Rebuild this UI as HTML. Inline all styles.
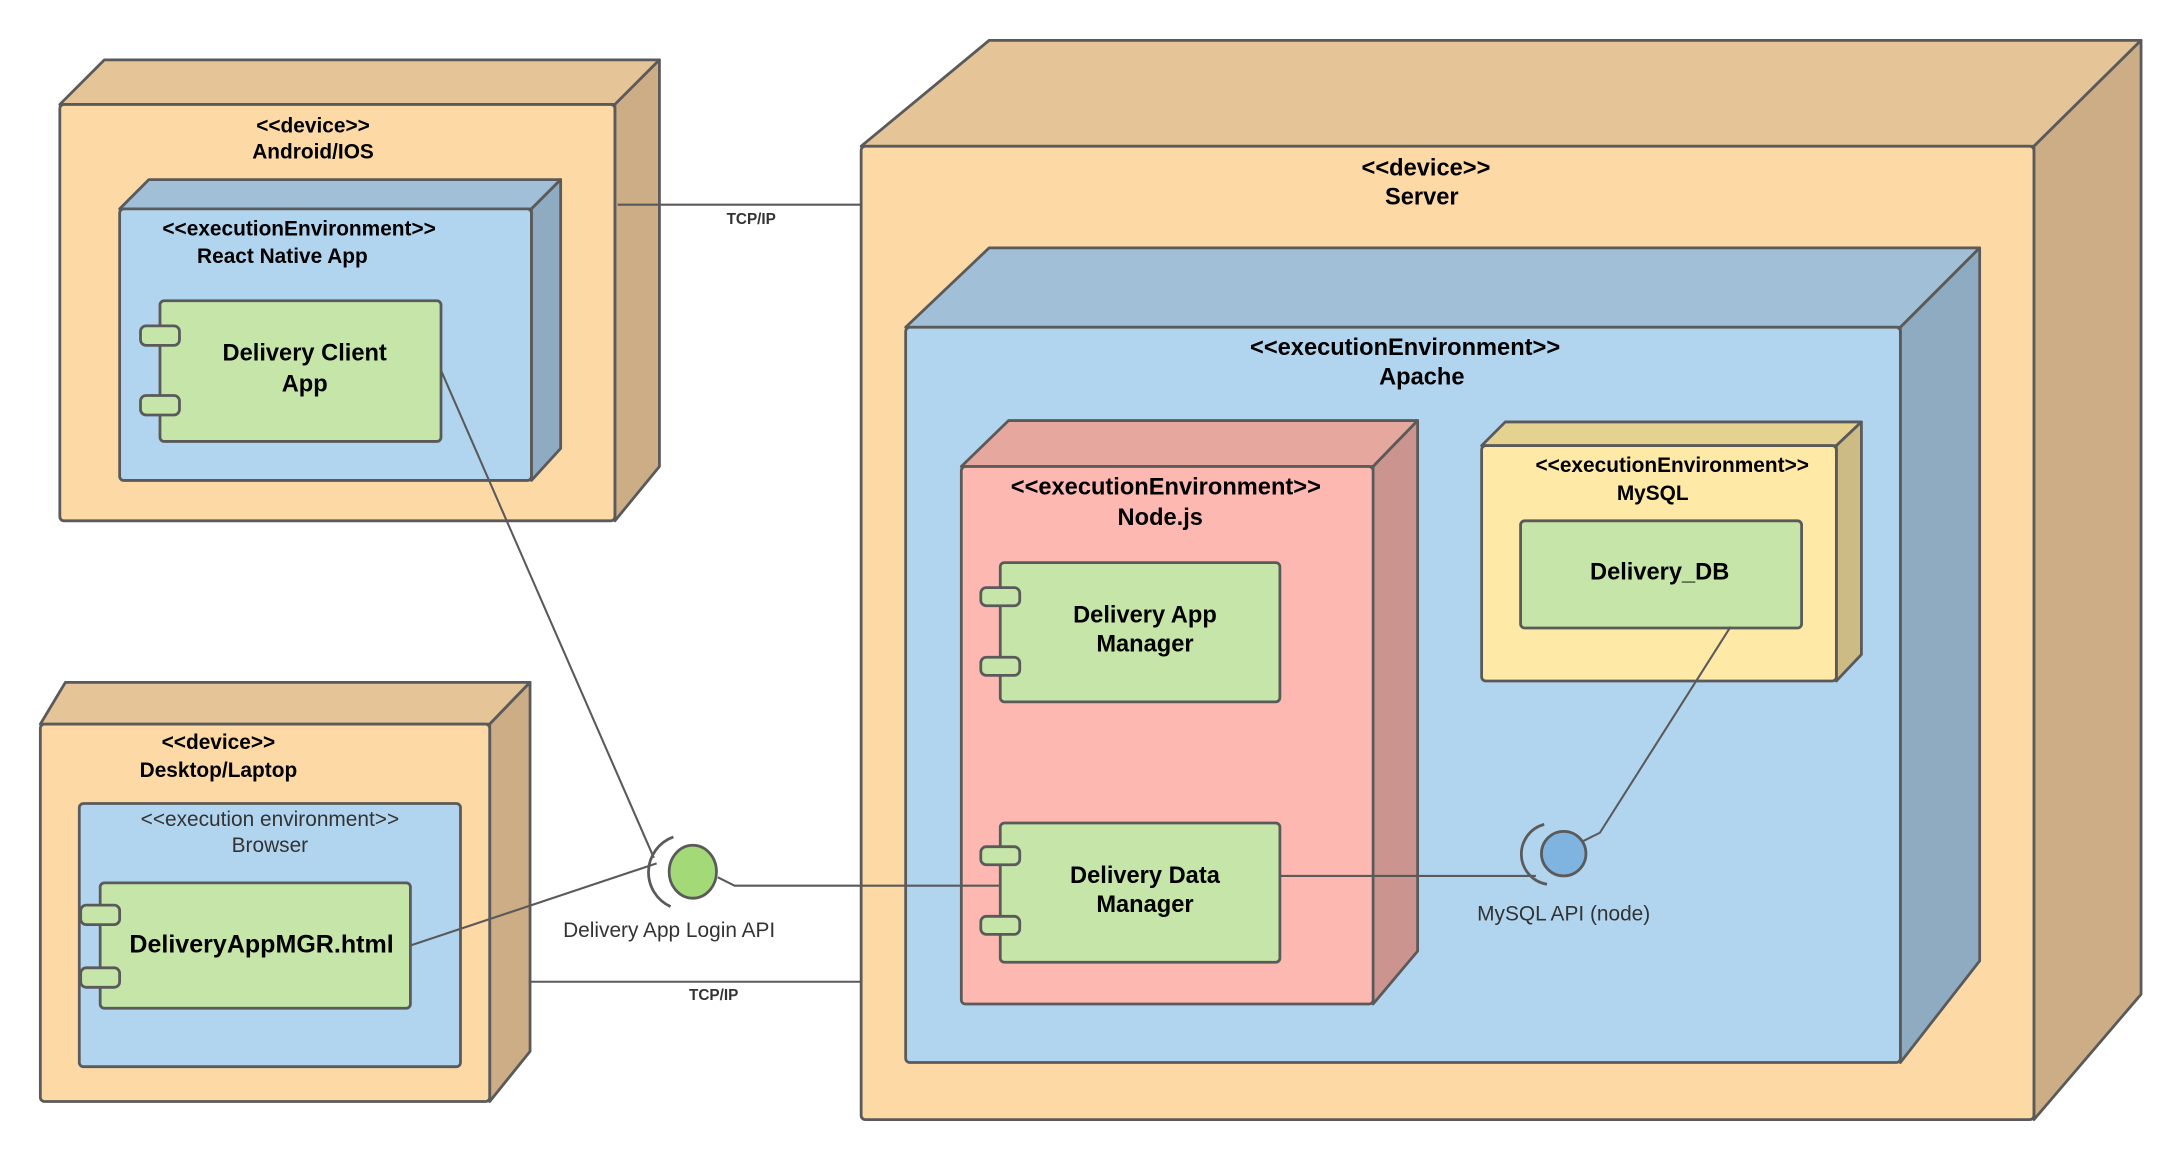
<!DOCTYPE html>
<html><head><meta charset="utf-8"><style>
html,body{margin:0;padding:0;background:#fff;width:2180px;height:1160px;overflow:hidden}
svg{display:block}
text{font-family:"Liberation Sans",sans-serif;text-anchor:middle;fill:#000}
</style></head><body>
<svg width="2180" height="1160" viewBox="0 0 1567 833" preserveAspectRatio="none" xmlns="http://www.w3.org/2000/svg">
<g stroke="#5a5a5a" stroke-width="2" stroke-linejoin="round">
<polygon points="43,75 75,43 474,43 442,75" fill="#e5c597"/>
<polygon points="442,75 474,43 474,335 442,374" fill="#ccad85"/>
<rect x="43" y="75" width="399" height="299" rx="3" fill="#fdd9a6"/>
<polygon points="86,150 107,129 403,129 382,150" fill="#a1c0d7"/>
<polygon points="382,150 403,129 403,322 382,345" fill="#8eabc2"/>
<rect x="86" y="150" width="296" height="195" rx="3" fill="#b2d5ef"/>
<rect x="115" y="216" width="202" height="101" rx="3" fill="#c6e6a9"/>
<rect x="101" y="234" width="28" height="14" rx="4" fill="#c6e6a9"/>
<rect x="101" y="284" width="28" height="14" rx="4" fill="#c6e6a9"/>
<polygon points="29,520 47,490 381,490 352,520" fill="#e5c597"/>
<polygon points="352,520 381,490 381,755 352,791" fill="#ccad85"/>
<rect x="29" y="520" width="323" height="271" rx="3" fill="#fdd9a6"/>
<rect x="57" y="577" width="274" height="189" rx="3" fill="#b2d5ef"/>
<rect x="72" y="634" width="223" height="90" rx="3" fill="#c6e6a9"/>
<rect x="58" y="650" width="28" height="14" rx="4" fill="#c6e6a9"/>
<rect x="58" y="695" width="28" height="14" rx="4" fill="#c6e6a9"/>
<polygon points="619,105 711,29 1539,29 1462,105" fill="#e5c597"/>
<polygon points="1462,105 1539,29 1539,714 1462,804" fill="#ccad85"/>
<rect x="619" y="105" width="843" height="699" rx="3" fill="#fdd9a6"/>
<polygon points="651,235 711,178 1423,178 1366,235" fill="#a1c0d7"/>
<polygon points="1366,235 1423,178 1423,690 1366,763" fill="#8eabc2"/>
<rect x="651" y="235" width="715" height="528" rx="3" fill="#b2d5ef"/>
<polygon points="691,335 725,302 1019,302 987,335" fill="#e6a79e"/>
<polygon points="987,335 1019,302 1019,683 987,721" fill="#cb948e"/>
<rect x="691" y="335" width="296" height="386" rx="3" fill="#fdb9b1"/>
<rect x="719" y="404" width="201" height="100" rx="3" fill="#c6e6a9"/>
<rect x="705" y="422" width="28" height="13" rx="4" fill="#c6e6a9"/>
<rect x="705" y="472" width="28" height="13" rx="4" fill="#c6e6a9"/>
<rect x="719" y="591" width="201" height="100" rx="3" fill="#c6e6a9"/>
<rect x="705" y="608" width="28" height="13" rx="4" fill="#c6e6a9"/>
<rect x="705" y="658" width="28" height="13" rx="4" fill="#c6e6a9"/>
<polygon points="1065,320 1082,303 1338,303 1320,320" fill="#e6d290"/>
<polygon points="1320,320 1338,303 1338,470 1320,489" fill="#ccbb85"/>
<rect x="1065" y="320" width="255" height="169" rx="3" fill="#ffe9a6"/>
<rect x="1093" y="374" width="202" height="77" rx="3" fill="#c6e6a9"/>
</g>
<g stroke="#5a5a5a" fill="none" stroke-width="1.5">
<line x1="444" y1="147" x2="619" y2="147"/>
<line x1="381" y1="705" x2="619" y2="705"/>
<line x1="317" y1="266" x2="470" y2="616"/>
<line x1="295" y1="679" x2="472" y2="620"/>
<polyline points="516,630 528,636 719,636"/>
<line x1="920" y1="629" x2="1104" y2="629"/>
<polyline points="1244,450 1150,598 1138,604"/>
<path d="M 484 601 A 27 27 0 0 0 482 651" stroke-width="2"/>
<path d="M 1110 592 A 22 22 0 0 0 1112 635" stroke-width="2"/>
</g>
<ellipse cx="498" cy="626" rx="17" ry="19" fill="#a3d977" stroke="#5a5a5a" stroke-width="2"/>
<circle cx="1124" cy="613" r="16" fill="#7fb3e0" stroke="#5a5a5a" stroke-width="2"/>
<g font-size="15" font-weight="bold">
<text x="225" y="95">&lt;&lt;device&gt;&gt;</text>
<text x="225" y="114">Android/IOS</text>
<text x="215" y="169">&lt;&lt;executionEnvironment&gt;&gt;</text>
<text x="203" y="189">React Native App</text>
<text x="157" y="538">&lt;&lt;device&gt;&gt;</text>
<text x="157" y="558">Desktop/Laptop</text>
<text x="1202" y="339">&lt;&lt;executionEnvironment&gt;&gt;</text>
<text x="1188" y="359">MySQL</text>
</g>
<g font-size="17" font-weight="bold">
<text x="219" y="259">Delivery Client</text>
<text x="219" y="281">App</text>
<text x="188" y="684" font-size="18">DeliveryAppMGR.html</text>
<text x="1025" y="126">&lt;&lt;device&gt;&gt;</text>
<text x="1022" y="147">Server</text>
<text x="1010" y="255">&lt;&lt;executionEnvironment&gt;&gt;</text>
<text x="1022" y="276">Apache</text>
<text x="838" y="355">&lt;&lt;executionEnvironment&gt;&gt;</text>
<text x="834" y="377">Node.js</text>
<text x="823" y="447">Delivery App</text>
<text x="823" y="468">Manager</text>
<text x="823" y="634">Delivery Data</text>
<text x="823" y="655">Manager</text>
<text x="1193" y="416">Delivery_DB</text>
</g>
<g font-size="15">
<text x="194" y="593" style="fill:#333">&lt;&lt;execution environment&gt;&gt;</text>
<text x="194" y="612" style="fill:#333">Browser</text>
<text x="481" y="673" style="fill:#333">Delivery App Login API</text>
<text x="1124" y="661" style="fill:#333">MySQL API (node)</text>
</g>
<g font-size="11" font-weight="bold">
<text x="540" y="161" style="fill:#333">TCP/IP</text>
<text x="513" y="718" style="fill:#333">TCP/IP</text>
</g>
</svg>
</body></html>
